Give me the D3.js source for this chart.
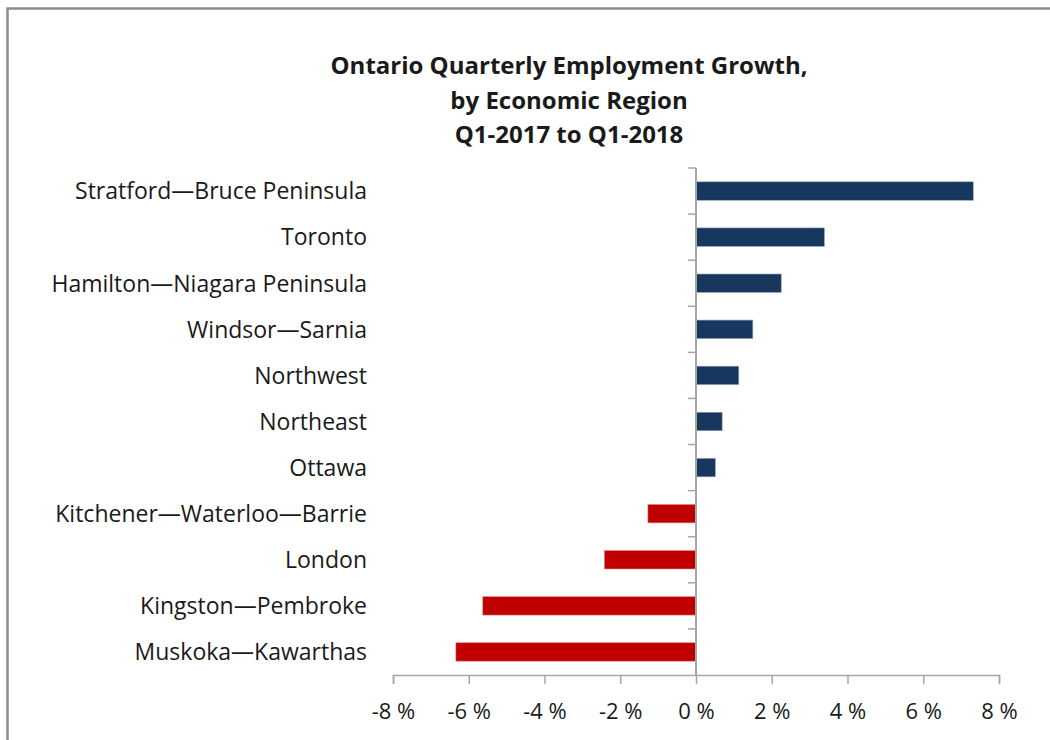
<!DOCTYPE html>
<html>
<head>
<meta charset="utf-8">
<script src="https://cdn.jsdelivr.net/npm/d3@7/dist/d3.min.js"></script>
<style>
  html, body { margin: 0; padding: 0; background: #fff; }
  svg { display: block; }
  text { font-family: "Open Sans", Lato, "Liberation Sans", sans-serif; fill: #1a1a1a; }
</style>
</head>
<body>
<svg id="chart" width="1050" height="740"></svg>
<script>
const titleLines = ["Ontario Quarterly Employment Growth,", "by Economic Region", "Q1-2017 to Q1-2018"];
const categories = [
  "Stratford\u2014Bruce Peninsula",
  "Toronto",
  "Hamilton\u2014Niagara Peninsula",
  "Windsor\u2014Sarnia",
  "Northwest",
  "Northeast",
  "Ottawa",
  "Kitchener\u2014Waterloo\u2014Barrie",
  "London",
  "Kingston\u2014Pembroke",
  "Muskoka\u2014Kawarthas"
];
const values = [7.32, 3.39, 2.25, 1.50, 1.13, 0.69, 0.51, -1.27, -2.42, -5.63, -6.34];
const tickValues = [-8, -6, -4, -2, 0, 2, 4, 6, 8];
const tickLabels = ["-8 %", "-6 %", "-4 %", "-2 %", "0 %", "2 %", "4 %", "6 %", "8 %"];

const svg = d3.select("#chart");
const axisColor = "#a6a6a6";

// outer frame
svg.append("rect")
  .attr("x", 7.5).attr("y", 8.5)
  .attr("width", 1060).attr("height", 760)
  .attr("fill", "none").attr("stroke", "#8c8c8c").attr("stroke-width", 2.5);

const plot = { left: 393, right: 999, top: 168, bottom: 675 };

const x = d3.scaleLinear().domain([-8, 8]).range([plot.left, plot.right]);
const y = d3.scaleBand().domain(categories).range([plot.top, plot.bottom]).paddingInner(0.6).paddingOuter(0.3);

// title
const title = svg.append("text")
  .attr("x", 569).attr("y", 74)
  .attr("text-anchor", "middle")
  .style("font-size", "24px").style("font-weight", "bold");
titleLines.forEach((t, i) => {
  title.append("tspan").attr("x", 569).attr("dy", i === 0 ? 0 : 34.5).text(t);
});

// bars
svg.append("g").selectAll("rect")
  .data(values)
  .join("rect")
  .attr("x", (d) => x(Math.min(0, d)))
  .attr("width", (d) => Math.abs(x(d) - x(0)))
  .attr("y", (d, i) => y(categories[i]))
  .attr("height", y.bandwidth())
  .attr("fill", (d) => d >= 0 ? "#17375e" : "#c00000")
  .attr("stroke", (d) => d >= 0 ? "#8ea3bd" : "#e08a8a")
  .attr("stroke-width", 0.6);

// x axis
const xAxis = d3.axisBottom(x)
  .tickValues(tickValues)
  .tickFormat((d, i) => tickLabels[i])
  .tickSize(9)
  .tickPadding(19);
const gx = svg.append("g").attr("transform", `translate(0,${plot.bottom})`).call(xAxis);
gx.select(".domain").attr("stroke", axisColor).attr("stroke-width", 1.5);
gx.selectAll(".tick line").attr("stroke", axisColor).attr("stroke-width", 1.5);
gx.selectAll(".tick text").style("font-size", "22px").style("font-family", "'Open Sans', Lato, sans-serif").attr("fill", "#1a1a1a");

// category axis at zero
const boundaries = d3.range(categories.length + 1).map(i => plot.top + i * (plot.bottom - plot.top) / categories.length);
const gy = svg.append("g");
gy.append("line")
  .attr("x1", x(0)).attr("x2", x(0))
  .attr("y1", plot.top).attr("y2", plot.bottom)
  .attr("stroke", axisColor).attr("stroke-width", 2);
gy.selectAll("line.tk").data(boundaries.slice(0, categories.length))
  .join("line").attr("class", "tk")
  .attr("x1", x(0) - 8).attr("x2", x(0))
  .attr("y1", d => d).attr("y2", d => d)
  .attr("stroke", axisColor).attr("stroke-width", 1.5);

// category labels
svg.append("g").selectAll("text")
  .data(categories)
  .join("text")
  .attr("x", 367)
  .attr("y", d => y(d) + y.bandwidth() / 2)
  .attr("dy", "0.36em")
  .attr("text-anchor", "end")
  .style("font-size", "23px")
  .text(d => d);
</script>
</body>
</html>
